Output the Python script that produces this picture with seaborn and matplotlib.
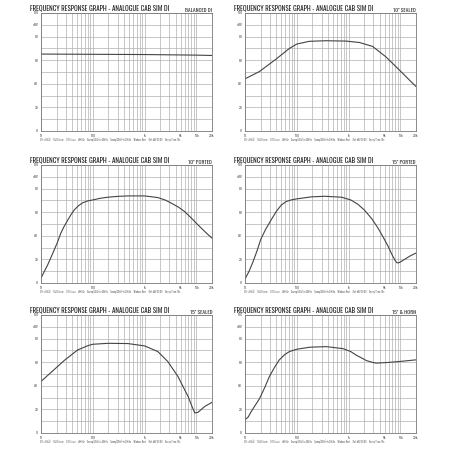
import numpy as np
import pandas as pd
import matplotlib
matplotlib.use("Agg")
import matplotlib.pyplot as plt
import seaborn as sns
import logging
logging.getLogger("matplotlib.font_manager").setLevel(logging.ERROR)

sns.set_theme(style="white")
plt.rcParams['font.family'] = ['Barlow Condensed', 'DejaVu Sans']
TITLE_FAMILY = ['Oswald', 'Antonio', 'Fjalla One', 'Barlow Condensed', 'DejaVu Sans']

TITLE = "FREQUENCY RESPONSE GRAPH - ANALOGUE CAB SIM DI"
panel_names = ["BALANCED DI", "10\" SEALED", "10\" PORTED", "15\" PORTED", "15\" SEALED", "15\" & HORN"]

x_ticks = [10, 100, 1000, 5000, 10000, 20000]
x_tick_labels = ["10", "100", "1k", "5k", "10k", "20k"]
y_ticks = [0, 20, 40, 60, 80, 90, 100]
y_tick_labels = ["0", "20", "40", "60", "80", "dBV", "100"]
footer = "Ch1: dBV(A)     1/48 Octave     1/3 Octave     dBr/Hz     Sweep(20Hz) to 20kHz     Sweep(20Hz) to 20kHz     Window: Rect     Ref: dBV 20.00     Sweep Time: 10s"

# Panel data (frequency in Hz, level)
f_bal = [10, 100, 1000, 10000, 20000]
v_bal = [65.2, 65.0, 64.8, 64.3, 64.0]

f_10s = [10, 19, 40, 72, 100, 174, 363, 890, 1620, 2900, 5200, 9500, 14800, 20000]
v_10s = [44.2, 50.4, 61.0, 70.0, 73.7, 76.0, 76.5, 76.2, 75.0, 71.7, 63.0, 51.8, 43.3, 37.7]

f_10p = [10, 11.5, 13.5, 15.5, 18, 21, 24, 28, 33, 38, 44, 53, 64, 80, 100, 140, 195, 300, 476, 1000, 1800, 2500, 3300, 4500, 5900, 8000, 10700, 15000, 20000]
v_10p = [4.2, 9.5, 15.5, 21.5, 28.0, 35.0, 42.0, 48.0, 53.5, 58.0, 62.0, 65.5, 68.0, 69.6, 70.4, 71.8, 72.7, 73.4, 73.8, 73.8, 72.4, 70.3, 67.6, 64.3, 60.6, 55.0, 49.3, 43.0, 38.0]

f_15p = [10, 12, 14, 17, 20, 25, 32, 40, 50, 62, 78, 100, 191, 350, 730, 1100, 1500, 2000, 2800, 3700, 4700, 5800, 6800, 7800, 8500, 9000, 10000, 12300, 15500, 20000]
v_15p = [3.4, 10.0, 17.0, 27.0, 36.6, 45.5, 53.5, 60.5, 66.0, 69.0, 70.4, 71.3, 73.0, 73.5, 72.7, 70.4, 66.8, 62.0, 54.5, 46.5, 38.5, 31.0, 24.5, 19.5, 17.3, 17.0, 17.8, 20.3, 23.0, 25.4]

f_15s = [10, 15.6, 28, 51, 80, 100, 195, 476, 1000, 1800, 2800, 4400, 6900, 8300, 9300, 10700, 14500, 20000]
v_15s = [43.7, 51.3, 61.4, 70.4, 74.0, 75.2, 76.0, 75.8, 73.8, 69.0, 60.6, 47.9, 31.0, 22.0, 17.0, 17.5, 22.5, 26.0]

f_15h = [10, 11.5, 13, 15.5, 19, 24, 29.6, 37, 46, 58, 72, 100, 178, 370, 780, 1100, 1400, 1800, 2200, 2800, 3400, 5400, 9700, 20000]
v_15h = [11.3, 13.5, 17.7, 23.0, 29.0, 38.5, 47.9, 55.5, 62.0, 66.3, 69.0, 71.0, 72.7, 73.2, 71.5, 69.0, 66.0, 63.5, 61.4, 60.0, 59.2, 59.7, 60.6, 62.0]

series = [(f_bal, v_bal), (f_10s, v_10s), (f_10p, v_10p), (f_15p, v_15p), (f_15s, v_15s), (f_15h, v_15h)]

fig = plt.figure(figsize=(4.5, 4.5), dpi=100)
W = H = 450.0
col_left = [41, 245]
ax_w = 171
row_top = [13, 165, 315]
ax_h = 118
renderer = fig.canvas.get_renderer()


def fit_text(t, width_px):
    bb = t.get_window_extent(renderer=renderer)
    t.set_fontsize(t.get_fontsize() * width_px / bb.width)


for i, (name, (f, v)) in enumerate(zip(panel_names, series)):
    r, c = divmod(i, 2)
    left = col_left[c] / W
    bottom = 1 - (row_top[r] + ax_h) / H
    ax = fig.add_axes([left, bottom, ax_w / W, ax_h / H])
    df = pd.DataFrame({"freq": f, "level": v})
    sns.lineplot(data=df, x="freq", y="level", ax=ax, color="#444444", linewidth=0.8)
    ax.set_xscale("log")
    ax.set_xlim(10, 20000)
    ax.set_ylim(0, 100)
    ax.set_xticks(x_ticks)
    ax.set_xticklabels(x_tick_labels)
    ax.set_xticks([m * d for d in [10, 100, 1000, 10000] for m in range(1, 10) if m * d <= 20000], minor=True)
    ax.set_xticklabels([], minor=True)
    ax.set_yticks(y_ticks)
    ax.set_yticklabels(y_tick_labels)
    ax.set_yticks(np.arange(0, 101, 10), minor=True)
    ax.grid(which="both", color="#b0b0b0", linewidth=0.5)
    ax.set_axisbelow(True)
    ax.tick_params(which="both", length=0, labelsize=3.2, colors="#333333", pad=2)
    ax.set_xlabel("")
    ax.set_ylabel("")
    for s in ax.spines.values():
        s.set_color("#777777")
        s.set_linewidth(0.6)
    # texts
    t = fig.text((col_left[c] - 11) / W, 1 - (row_top[r] - 5) / H, TITLE, fontsize=7,
                 family=TITLE_FAMILY, fontweight="bold", color="#1e1e1e", va="center", ha="left")
    fit_text(t, 140)
    t2 = fig.text((col_left[c] + ax_w) / W, 1 - (row_top[r] - 3) / H, name, fontsize=4,
                  family=TITLE_FAMILY, fontweight="bold", color="#333333", va="center", ha="right")
    t3 = fig.text((col_left[c] - 1) / W, 1 - (row_top[r] + ax_h + 9) / H, footer, fontsize=2.5,
                  color="#444444", va="center", ha="left")
    fit_text(t3, 145)

fig.savefig("out.png", dpi=100, facecolor="white")
